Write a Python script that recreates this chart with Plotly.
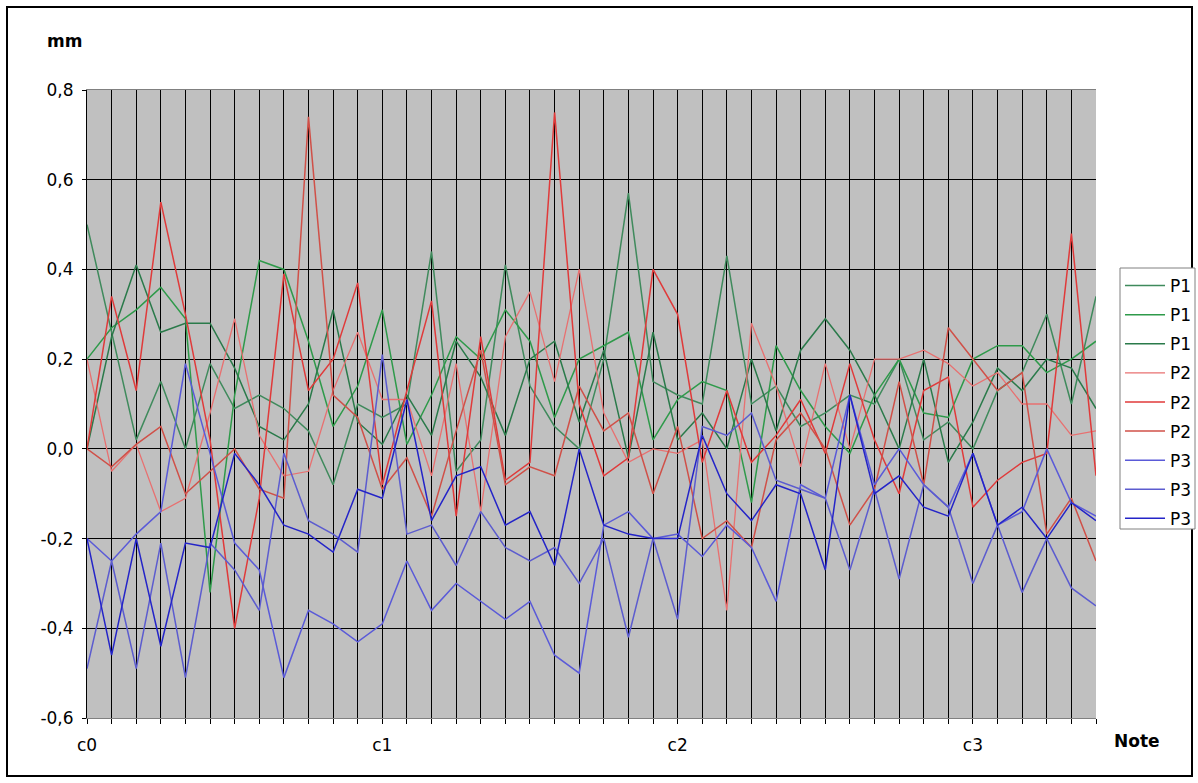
import plotly.graph_objects as go

note_names = ["c", "c#", "d", "d#", "e", "f", "f#", "g", "g#", "a", "a#", "h"]
notes = [f"{n}{o}" for o in range(4) for n in note_names][:42]
tick_labels = [n if n in ("c0", "c1", "c2", "c3") else "" for n in notes]

y_ticks = [-0.6, -0.4, -0.2, 0.0, 0.2, 0.4, 0.6, 0.8]
y_tick_text = ["-0,6", "-0,4", "-0,2", "0,0", "0,2", "0,4", "0,6", "0,8"]

p1_a = [0.50, 0.26, 0.02, 0.15, 0.00, 0.19, 0.09, 0.12, 0.09, 0.04, -0.08, 0.10,
        0.07, 0.10, 0.44, -0.05, 0.02, 0.41, 0.14, 0.05, 0.00, 0.20, 0.57, 0.15,
        0.12, 0.10, 0.43, 0.10, 0.14, 0.05, 0.08, 0.12, 0.10, 0.20, 0.02, 0.06,
        0.00, 0.13, 0.17, 0.30, 0.10, 0.34]
p1_b = [0.20, 0.27, 0.31, 0.36, 0.29, -0.32, 0.12, 0.42, 0.40, 0.24, 0.05, 0.14,
        0.31, 0.01, 0.12, 0.25, 0.20, 0.31, 0.24, 0.07, 0.20, 0.23, 0.26, 0.02,
        0.11, 0.15, 0.13, -0.12, 0.23, 0.13, 0.05, -0.01, 0.12, 0.20, 0.08, 0.07,
        0.20, 0.23, 0.23, 0.17, 0.20, 0.24]
p1_c = [0.00, 0.25, 0.41, 0.26, 0.28, 0.28, 0.18, 0.05, 0.02, 0.10, 0.31, 0.06,
        0.01, 0.12, 0.03, 0.24, 0.16, 0.03, 0.20, 0.24, 0.06, 0.22, -0.02, 0.26,
        0.02, 0.08, 0.00, 0.20, 0.04, 0.22, 0.29, 0.22, 0.12, 0.00, 0.20, -0.03,
        0.06, 0.18, 0.13, 0.20, 0.18, 0.09]
p2_a = [0.20, -0.05, 0.01, -0.14, -0.11, 0.08, 0.29, 0.03, -0.06, -0.05, 0.13, 0.26,
        0.11, 0.11, -0.06, 0.19, -0.14, 0.25, 0.35, 0.15, 0.40, 0.08, -0.03, 0.00,
        -0.01, 0.02, -0.36, 0.28, 0.14, -0.04, 0.19, 0.00, 0.20, 0.20, 0.22, 0.19,
        0.14, 0.17, 0.10, 0.10, 0.03, 0.04]
p2_b = [0.00, 0.34, 0.13, 0.55, 0.30, 0.02, -0.40, -0.11, 0.39, 0.13, 0.20, 0.37,
        -0.08, 0.13, 0.33, -0.15, 0.25, -0.07, -0.03, 0.75, 0.10, -0.06, -0.02, 0.40,
        0.30, -0.03, 0.13, -0.03, 0.03, 0.11, -0.01, 0.19, 0.02, -0.10, 0.13, 0.16,
        -0.13, -0.07, -0.03, -0.01, 0.48, -0.06]
p2_c = [0.00, -0.04, 0.01, 0.05, -0.10, -0.05, 0.00, -0.09, -0.11, 0.74, 0.12, 0.07,
        -0.09, -0.02, -0.15, 0.04, 0.22, -0.08, -0.04, -0.06, 0.14, 0.04, 0.08, -0.10,
        0.05, -0.20, -0.16, -0.22, 0.02, 0.08, 0.00, -0.17, -0.09, 0.15, -0.08, 0.27,
        0.20, 0.13, 0.17, -0.19, -0.11, -0.25]
p3_a = [-0.20, -0.25, -0.19, -0.14, 0.19, -0.01, -0.21, -0.27, -0.51, -0.36, -0.39, -0.43,
        -0.39, -0.25, -0.36, -0.30, -0.34, -0.38, -0.34, -0.46, -0.50, -0.17, -0.14, -0.20,
        -0.19, -0.24, -0.17, -0.22, -0.34, -0.08, -0.11, 0.12, -0.08, 0.00, -0.08, -0.13,
        -0.01, -0.17, -0.14, 0.00, -0.12, -0.15]
p3_b = [-0.49, -0.25, -0.49, -0.21, -0.51, -0.21, -0.27, -0.36, -0.01, -0.16, -0.19, -0.23,
        0.21, -0.19, -0.17, -0.26, -0.14, -0.22, -0.25, -0.22, -0.30, -0.20, -0.42, -0.20,
        -0.38, 0.05, 0.03, 0.08, -0.07, -0.09, -0.11, -0.27, -0.09, -0.29, -0.08, -0.13,
        -0.30, -0.17, -0.32, -0.20, -0.31, -0.35]
p3_c = [-0.20, -0.46, -0.20, -0.44, -0.21, -0.22, -0.01, -0.08, -0.17, -0.19, -0.23, -0.09,
        -0.11, 0.11, -0.16, -0.06, -0.04, -0.17, -0.14, -0.26, 0.00, -0.17, -0.19, -0.20,
        -0.20, 0.03, -0.10, -0.16, -0.08, -0.10, -0.27, 0.12, -0.10, -0.06, -0.13, -0.15,
        -0.01, -0.17, -0.13, -0.20, -0.12, -0.16]

series = [
    ("P1", p1_a, "#3f8a5c", 1.5),
    ("P1", p1_b, "#2e9a4a", 1.5),
    ("P1", p1_c, "#2a7a4a", 1.5),
    ("P2", p2_a, "#e87070", 1.3),
    ("P2", p2_b, "#e03a3a", 1.5),
    ("P2", p2_c, "#d05048", 1.5),
    ("P3", p3_a, "#5a5ad8", 1.5),
    ("P3", p3_b, "#5c5ccf", 1.5),
    ("P3", p3_c, "#2424c8", 1.5),
]

fig = go.Figure()
for i, (name, vals, color, w) in enumerate(series):
    fig.add_trace(go.Scatter(
        x=notes, y=vals, mode="lines", name=name,
        line=dict(color=color, width=w),
        legendgroup=f"g{i}",
    ))

font_family = "DejaVu Sans, Verdana, sans-serif"
pw, ph = 1009, 628

fig.update_layout(
    width=1198, height=783,
    margin=dict(l=87, r=102, t=90, b=65, autoexpand=False),
    paper_bgcolor="white",
    plot_bgcolor="#c0c0c0",
    font=dict(family=font_family, size=17, color="black"),
    showlegend=True,
    legend=dict(
        x=1.0238, xanchor="left", y=0.7166, yanchor="top",
        borderwidth=0, bgcolor="rgba(0,0,0,0)",
        font=dict(size=17), tracegroupgap=4, itemwidth=40,
    ),
    xaxis=dict(
        type="category", categoryorder="array", categoryarray=notes,
        range=[0, 41], tickmode="array", tickvals=notes, ticktext=tick_labels,
        showgrid=True, gridcolor="black", gridwidth=1,
        ticks="outside", ticklen=5, tickcolor="black", ticklabelstandoff=7,
        showline=True, linecolor="#808080", mirror=True, zeroline=False,
        tickfont=dict(size=17), tickangle=0, automargin=False,
    ),
    yaxis=dict(
        range=[-0.6, 0.8], tickmode="array", tickvals=y_ticks, ticktext=y_tick_text,
        showgrid=True, gridcolor="black", gridwidth=1,
        ticks="outside", ticklen=4, tickcolor="black", ticklabelstandoff=5,
        showline=True, linecolor="black", mirror=False, zeroline=False,
        tickfont=dict(size=17), automargin=False,
    ),
    annotations=[
        dict(text="<b>mm</b>", xref="paper", yref="paper", x=-0.022, y=1.078,
             xanchor="center", yanchor="middle", showarrow=False, font=dict(size=17)),
        dict(text="<b>Note</b>", xref="paper", yref="paper", x=1.041, y=-0.037,
             xanchor="center", yanchor="middle", showarrow=False, font=dict(size=17)),
    ],
    shapes=[
        dict(type="rect", xref="paper", yref="paper",
             x0=-80 / pw, x1=(1192 - 87) / pw, y0=-(776 - 718) / ph, y1=1 + (90 - 7) / ph,
             line=dict(color="black", width=2), fillcolor="rgba(0,0,0,0)", layer="below"),
        dict(type="rect", xref="paper", yref="paper",
             x0=(1120 - 87) / pw, x1=(1195 - 87) / pw,
             y0=(718 - 529) / ph, y1=(718 - 268) / ph,
             line=dict(color="#808080", width=1), fillcolor="white", layer="below"),
    ],
)

fig.write_html("out.html", config={"displayModeBar": False},
               post_script="document.body.style.margin='0';")
